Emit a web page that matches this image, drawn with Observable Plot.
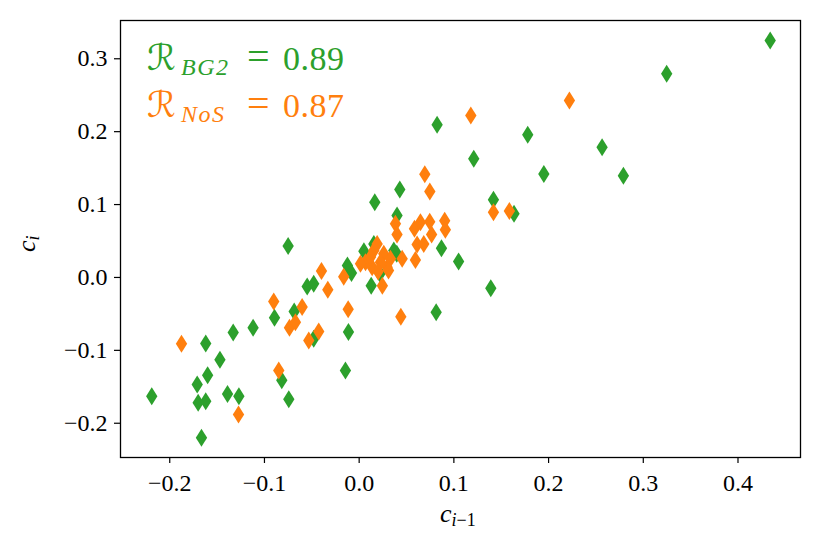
<!DOCTYPE html>
<html><head><meta charset="utf-8">
<script src="https://cdn.jsdelivr.net/npm/d3@7"></script>
<script src="https://cdn.jsdelivr.net/npm/@observablehq/plot@0.6"></script>
<style>
body{margin:0;background:#fff;font-family:'Liberation Serif'}
svg text, svg tspan { font-family: 'Liberation Serif' !important; }
svg tspan.script { font-family: 'DejaVu Sans' !important; }
</style>
</head><body><div id="chart"></div>
<script>
// BG2 series (green)
const bg2X = [-0.219,-0.162,-0.147,-0.160,-0.171,-0.170,-0.162,-0.1665,-0.139,-0.127,-0.133,-0.112,-0.0894,-0.075,-0.0817,-0.0743,-0.0686,-0.0549,-0.048,-0.048,-0.0113,-0.0145,-0.0124,-0.0081,0.0127,0.0165,0.0429,0.040,0.0869,0.105,0.0813,0.005,0.0823,0.178,0.121,0.195,0.1418,0.1635,0.139,0.0155,0.0366,0.022,0.434,0.3247,0.2565,0.279,0.0397];
const bg2Y = [-0.163,-0.0905,-0.113,-0.134,-0.147,-0.172,-0.170,-0.220,-0.160,-0.163,-0.0755,-0.069,-0.0553,0.043,-0.141,-0.167,-0.0466,-0.0123,-0.0087,-0.084,-0.075,-0.1276,0.0165,0.006,-0.0114,0.103,0.1207,0.085,0.040,0.022,-0.0478,0.036,0.2094,0.1957,0.1628,0.142,0.1066,0.0873,-0.0147,0.046,0.037,0.005,0.325,0.2794,0.1787,0.1395,0.0325];
// NoS series (orange)
const nosX = [-0.1876,-0.1274,-0.0849,-0.0902,-0.0736,-0.0673,-0.0602,-0.0532,-0.0427,-0.0398,-0.0331,-0.0163,-0.0116,0.044,0.0245,0.0454,0.0594,0.0746,0.1179,0.0693,0.1418,0.1586,0.222,0.0383,0.040,0.0584,0.0647,0.0745,0.0903,0.091,0.0765,0.0612,0.0682,0.0155,0.0067,0.026,0.0295,0.0137,0.0225,0.0014,0.033,0.019,0.031,0.012,0.020];
const nosY = [-0.091,-0.188,-0.1276,-0.0329,-0.069,-0.0613,-0.0407,-0.0864,-0.074,0.0087,-0.0169,0.001,-0.0437,-0.054,-0.0115,0.0256,0.024,0.118,0.2222,0.1417,0.0896,0.091,0.2428,0.0736,0.059,0.0668,0.0759,0.0765,0.0777,0.0654,0.059,0.0451,0.0458,0.037,0.021,0.0325,0.014,0.014,0.021,0.0188,0.0256,0.046,0.0096,0.028,0.008];
const xTicks = [-0.2,-0.1,0.0,0.1,0.2,0.3,0.4];
const yTicks = [-0.2,-0.1,0.0,0.1,0.2,0.3];
const labelNames = ["BG2","NoS"];
const labelValues = ["0.89","0.87"];

const GREEN = "#2ca02c", ORANGE = "#ff7f0e";
const SERIF = "Liberation Serif";

const diamond = {draw(ctx, size){
  const h = Math.sqrt(size/1.26), w = 0.63*h;
  ctx.moveTo(0,-h); ctx.lineTo(w,0); ctx.lineTo(0,h); ctx.lineTo(-w,0); ctx.closePath();
}};

const bg2 = bg2X.map((x,i)=>({x, y:bg2Y[i]}));
const nos = nosX.map((x,i)=>({x, y:nosY[i]}));
const fmt = d3.format(".1f");

const plot = Plot.plot({
  width: 822, height: 548,
  marginLeft: 120, marginRight: 22, marginTop: 20, marginBottom: 91,
  style: {fontFamily: SERIF, fontSize: "24px", background: "#fff", color: "#000"},
  x: {domain: [-0.252, 0.466], label: null},
  y: {domain: [-0.247, 0.3525], label: null},
  marks: [
    Plot.axisX({ticks: xTicks, tickFormat: fmt, tickSize: 6, tickPadding: 10, label: null, strokeWidth: 1.2}),
    Plot.axisY({ticks: yTicks, tickFormat: fmt, tickSize: 6, tickPadding: 7, label: null, strokeWidth: 1.2}),
    Plot.dot(bg2, {x: "x", y: "y", symbol: diamond, r: 5.7, fill: GREEN, stroke: "none"}),
    Plot.dot(nos, {x: "x", y: "y", symbol: diamond, r: 5.7, fill: ORANGE, stroke: "none"}),
    Plot.frame({stroke: "#000", strokeWidth: 1.3})
  ]
});
plot.setAttribute("font-family", SERIF);
document.getElementById("chart").appendChild(plot);

const svg = d3.select(plot);
function legendLine(baseline, sub, val, color){
  const t = svg.append("text").attr("fill", color).attr("text-anchor", "start").attr("font-size", 34).style("font-family", SERIF);
  t.append("tspan").attr("class", "script").attr("x", 147).attr("y", baseline).attr("font-size", 36).text("ℛ");
  t.append("tspan").attr("x", 181).attr("y", baseline + 5).attr("font-style", "italic").attr("font-size", 24).attr("letter-spacing", 1.5).text(sub);
  t.append("tspan").attr("x", 247).attr("y", baseline).attr("font-size", 40).text("=");
  t.append("tspan").attr("x", 283).attr("y", baseline).attr("font-size", 34).attr("letter-spacing", 0.5).text(val);
}
legendLine(70, labelNames[0], labelValues[0], GREEN);
legendLine(117, labelNames[1], labelValues[1], ORANGE);

// x label c_{i-1}
const xl = svg.append("text").attr("fill", "#000").attr("text-anchor", "start").style("font-family", SERIF);
xl.append("tspan").attr("x", 440).attr("y", 522).attr("font-style", "italic").attr("font-size", 26).text("c");
xl.append("tspan").attr("y", 526).attr("font-style", "italic").attr("font-size", 18).text("i");
xl.append("tspan").attr("font-size", 18).text("−1");

// y label c_i
const yl = svg.append("text").attr("fill", "#000").attr("text-anchor", "start").style("font-family", SERIF).attr("transform", "translate(35,252) rotate(-90)");
yl.append("tspan").attr("x", 0).attr("y", 0).attr("font-style", "italic").attr("font-size", 26).text("c");
yl.append("tspan").attr("y", 4).attr("font-style", "italic").attr("font-size", 18).text("i");
</script>
</body></html>
